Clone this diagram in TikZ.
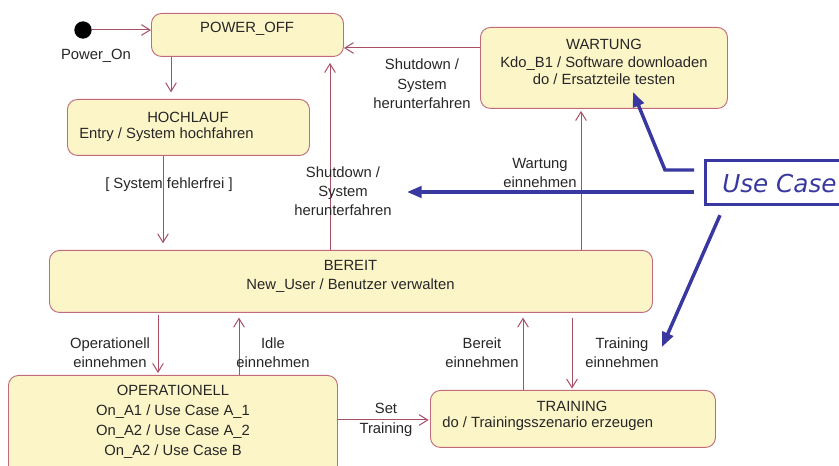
\documentclass[tikz,border=0pt]{standalone}
\usepackage{fontspec}
\setmainfont{Liberation Sans}
\newfontfamily\ucfont{DejaVu Sans}
\usetikzlibrary{arrows.meta}
\definecolor{boxfill}{HTML}{FCF5C8}
\definecolor{boxdraw}{HTML}{C06A7A}
\definecolor{linecol}{HTML}{A84F66}
\definecolor{txt}{HTML}{262626}
\definecolor{ucblue}{HTML}{3838A0}
\begin{document}
\begin{tikzpicture}[x=0.75pt,y=-0.75pt,
  font=\fontsize{11.1}{14.25}\selectfont, text=txt,
  state/.style={draw=boxdraw, fill=boxfill, rounded corners=7.5pt, line width=0.7pt, inner sep=0, anchor=north west},
  trans/.style={draw=linecol, line width=0.75pt, -{Straight Barb[length=6.5pt,width=8pt]}},
  lbl/.style={align=center, inner sep=0},
  ltxt/.style={inner sep=0, anchor=west},
  ucarrow/.style={draw=ucblue, line width=2.6pt, -{Triangle[length=11pt,width=8.5pt]}}]
\path[use as bounding box] (0,0) rectangle (839,466);
\clip (0,0) rectangle (839,466);

% states
\node[state, minimum width=144pt, minimum height=32.25pt] (po) at (151,13) {};
\node[state, minimum width=181.5pt, minimum height=42pt] (ho) at (67,99) {};
\node[state, minimum width=185.25pt, minimum height=60.75pt] (wa) at (480,27) {};
\node[state, minimum width=452.25pt, minimum height=46.5pt] (be) at (49,250) {};
\node[state, minimum width=246.75pt, minimum height=78pt] (op) at (8,375) {};
\node[state, minimum width=213.75pt, minimum height=42.75pt] (tr) at (430,390) {};

% state texts
\node[lbl] (pot) at (247,29) {POWER\_OFF};
\node[lbl] (hot) at (188,117) {HOCHLAUF};
\node[ltxt] (hoe) at (79,135) {Entry / System hochfahren};
\node[lbl, font=\fontsize{11.1}{13.2}\selectfont] (wat) at (604,62) {WARTUNG\\Kdo\_B1 / Software downloaden\\do / Ersatzteile testen};
\node[lbl] (bet) at (350.5,276) {BEREIT\\New\_User / Benutzer verwalten};
\node[lbl, font=\fontsize{11.1}{15}\selectfont] (opt) at (173,422) {OPERATIONELL\\On\_A1 / Use Case A\_1\\On\_A2 / Use Case A\_2\\On\_A2 / Use Case B};
\node[lbl] (trt) at (572,406) {TRAINING};
\node[ltxt] (tre) at (442,424) {do / Trainingsszenario erzeugen};

% initial state
\node[circle, fill=black, inner sep=0, minimum size=13pt] (init) at (83,30) {};
\node[lbl] (pon) at (96,56) {Power\_On};

% transitions
\draw[trans] (init) -- (po.west |- init);
\draw[trans, shorten >=5pt] (po.south -| 171,0) -- (ho.north -| 171,0);
\draw[trans, shorten >=5pt] (ho.south -| 163,0) -- (be.north -| 163,0);
\draw[trans, shorten >=4.5pt] (be.north -| 330,0) -- (po.south -| 330,0);
\draw[trans] (wa.west |- 0,48) -- (po.east |- 0,48);
\draw[trans, shorten >=1.5pt] (be.north -| 581,0) -- (wa.south -| 581,0);
\draw[trans, shorten <=1.5pt, shorten >=1.5pt] (be.south -| 158,0) -- (op.north -| 158,0);
\draw[trans, shorten >=3.5pt] (op.north -| 239,0) -- (be.south -| 239,0);
\draw[trans, shorten >=1pt] (op.east |- 0,420) -- (tr.west |- 0,420);
\draw[trans, shorten >=3.5pt] (tr.north -| 523,0) -- (be.south -| 523,0);
\draw[trans, shorten <=3.5pt, shorten >=1pt] (be.south -| 572,0) -- (tr.north -| 572,0);

% transition labels
\node[lbl] (l1) at (169,185) {[ System fehlerfrei ]};
\node[lbl] (l2) at (343,191) {Shutdown /\\System\\herunterfahren};
\node[lbl, font=\fontsize{11.1}{14.6}\selectfont] (l3) at (422,84) {Shutdown /\\System\\herunterfahren};
\node[lbl] (l4) at (540,172.5) {Wartung\\einnehmen};
\node[lbl] (l5) at (110,352.5) {Operationell\\einnehmen};
\node[lbl] (l6) at (273,352.5) {Idle\\einnehmen};
\node[lbl, font=\fontsize{11.1}{15}\selectfont] (l7) at (386,420) {Set\\Training};
\node[lbl] (l8) at (482,352.5) {Bereit\\einnehmen};
\node[lbl] (l9) at (622,352.5) {Training\\einnehmen};

% use case annotation
\node[draw=ucblue, line width=2.4pt, anchor=north west, minimum width=130pt, minimum height=33pt, inner sep=0] (uc) at (704,159) {};
\node[inner sep=0, anchor=base west, text=ucblue, font=\ucfont\itshape\fontsize{18.5}{20}\selectfont] (uct) at (722,193) {Use Case};
\coordinate (k1) at (665,170);
\coordinate (a1) at (633,92);
\coordinate (a2) at (407,192);
\coordinate (a3) at (662,347);
\draw[ucarrow] (uc.west |- k1) ++(-10,0) -- (k1) -- (a1);
\draw[ucarrow] (uc.west |- a2) ++(-10,0) -- (a2);
\draw[ucarrow] (uc.south -| 720,0) ++(0,9) -- (a3);
\end{tikzpicture}
\end{document}
